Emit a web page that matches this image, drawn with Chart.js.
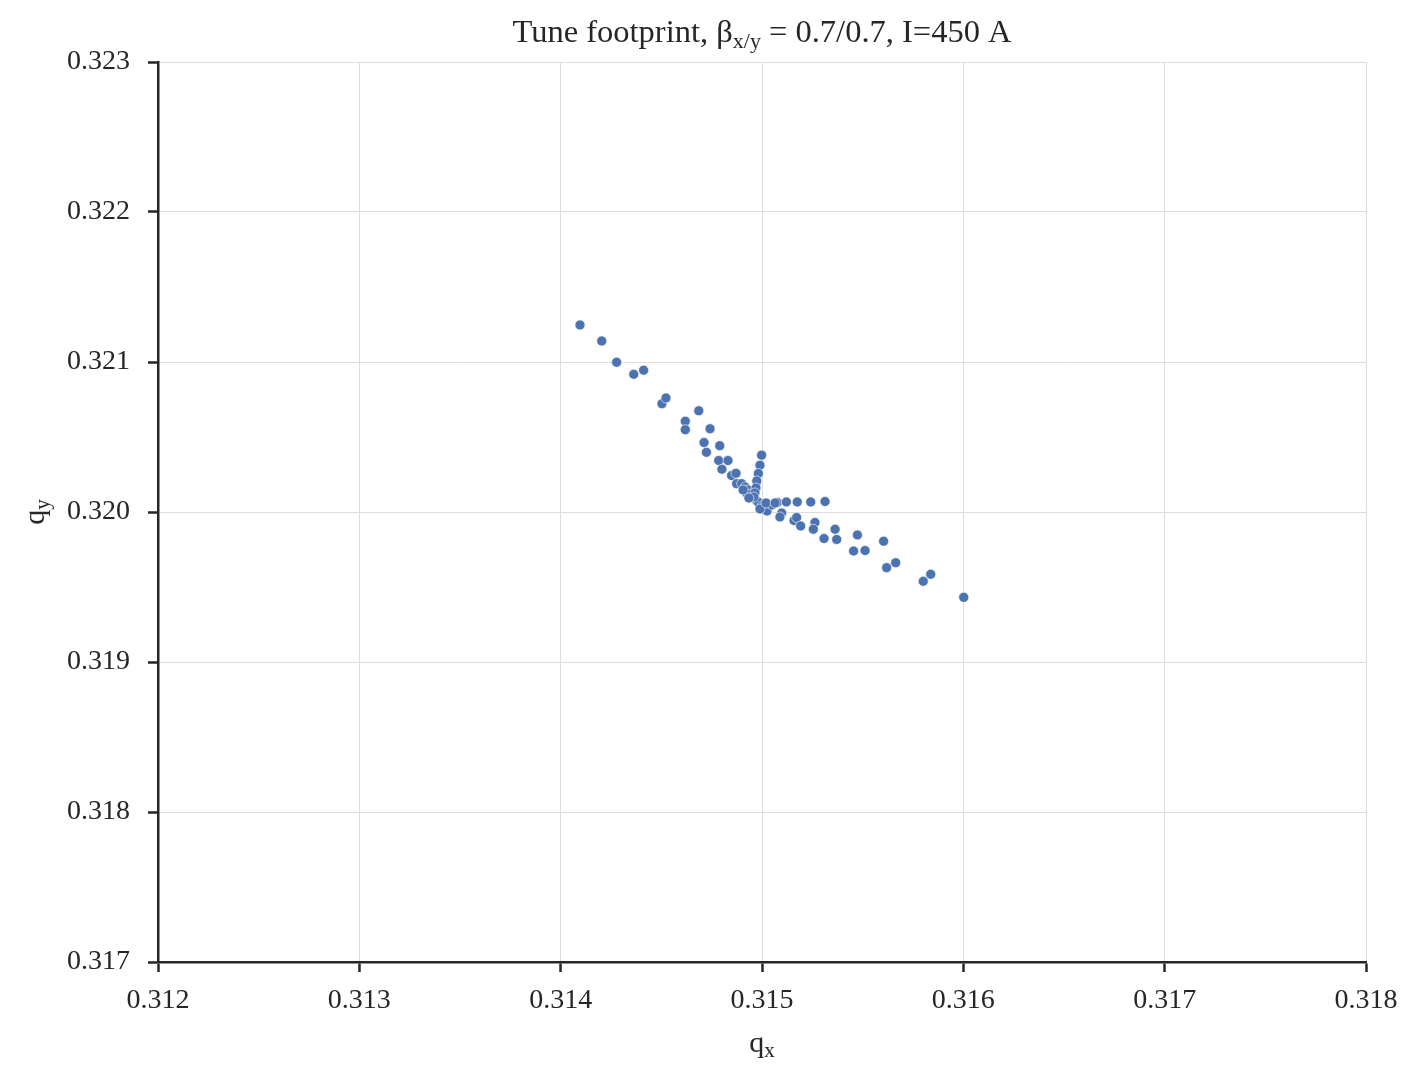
<!DOCTYPE html>
<html>
<head>
<meta charset="utf-8">
<script src="https://cdn.jsdelivr.net/npm/chart.js@4"></script>
<style>
html,body{margin:0;padding:0;background:#fff;}
#wrap{width:1404px;height:1066px;}
</style>
</head>
<body>
<div id="wrap"><canvas id="c" width="1404" height="1066"></canvas></div>
<script>
const qx = [
  0.314096,0.314204,0.314278,0.314363,0.314412,0.314503,0.314523,0.314686,0.314619,0.314619,
  0.314742,0.314712,0.314790,0.314724,0.314785,0.314831,0.314801,0.314998,0.314990,0.314982,
  0.314849,0.314871,0.314974,0.314874,0.314899,0.314924,0.314940,0.315076,0.315121,0.315175,
  0.315242,0.315313,0.315023,0.315040,0.314990,0.315023,0.315098,0.315089,0.315159,0.315172,
  0.315192,0.315263,0.315255,0.315363,0.315308,0.315371,0.315474,0.315455,0.315512,0.315604,
  0.315619,0.315664,0.315801,0.315838,0.316002,
  0.314916,0.314930,0.314945,0.314955,0.314970,0.314980,0.315000,0.315010,0.315025,0.315050,
  0.314970,0.314965,0.314960,0.314906,0.314935,0.314990,0.315020,0.315065
];
const qy = [
  0.321247,0.321140,0.320998,0.320918,0.320945,0.320722,0.320760,0.320675,0.320605,0.320549,
  0.320555,0.320463,0.320442,0.320398,0.320343,0.320343,0.320285,0.320379,0.320312,0.320257,
  0.320243,0.320258,0.320207,0.320189,0.320189,0.320125,0.320135,0.320063,0.320067,0.320067,
  0.320067,0.320070,0.320058,0.320047,0.320035,0.320013,0.319993,0.319967,0.319943,0.319963,
  0.319907,0.319930,0.319885,0.319885,0.319823,0.319817,0.319847,0.319740,0.319743,0.319805,
  0.319629,0.319662,0.319538,0.319585,0.319431,
  0.320167,0.320147,0.320120,0.320100,0.320080,0.320067,0.320040,0.320027,0.320007,0.320047,
  0.320160,0.320127,0.320100,0.320147,0.320093,0.320020,0.320060,0.320060
];
const xTicks = [0.312,0.313,0.314,0.315,0.316,0.317,0.318];
const yTicks = [0.317,0.318,0.319,0.320,0.321,0.322,0.323];
const titleParts = [["Tune footprint, β",false],["x/y",true],[" = 0.7/0.7, I=450 A",false]];
const xLabelParts = [["q",false],["x",true]];
const yLabelParts = [["q",false],["y",true]];

const points = qx.map((x,i)=>({x:x,y:qy[i]}));
const SERIF = '"Liberation Serif","DejaVu Serif",serif';
const INK = '#262626';

function drawParts(ctx, parts, cx, cy, size, subSize, subDy){
  let w = 0;
  parts.forEach(p=>{ ctx.font = (p[1]?subSize:size)+'px '+SERIF; w += ctx.measureText(p[0]).width; });
  let x = cx - w/2;
  parts.forEach(p=>{
    ctx.font = (p[1]?subSize:size)+'px '+SERIF;
    ctx.fillText(p[0], x, cy + (p[1]?subDy:0));
    x += ctx.measureText(p[0]).width;
  });
}

const labelsPlugin = {
  id:'labels',
  afterDraw(chart){
    const ctx = chart.ctx, a = chart.chartArea;
    ctx.save();
    ctx.fillStyle = INK;
    ctx.textBaseline = 'alphabetic';
    ctx.textAlign = 'left';
    drawParts(ctx, titleParts, (a.left+a.right)/2, 42, 32.5, 22, 6);
    drawParts(ctx, xLabelParts, (a.left+a.right)/2, 1052, 30, 21, 5);
    ctx.translate(44, (a.top+a.bottom)/2);
    ctx.rotate(-Math.PI/2);
    drawParts(ctx, yLabelParts, 0, 0, 30, 21, 5);
    ctx.restore();
  }
};

new Chart(document.getElementById('c'), {
  type:'scatter',
  data:{datasets:[{
    data:points,
    backgroundColor:'#4c72b0',
    borderColor:'#ffffff',
    borderWidth:0.6,
    pointRadius:5,
    pointHoverRadius:5
  }]},
  options:{
    responsive:false,
    animation:false,
    events:[],
    layout:{padding:{left:0,top:62,right:38,bottom:0}},
    plugins:{legend:{display:false},tooltip:{enabled:false},title:{display:false}},
    scales:{
      x:{
        type:'linear', min:0.312, max:0.318,
        afterBuildTicks(s){ s.ticks = xTicks.map(v=>({value:v})); },
        afterFit(s){ s.height = 104; s.paddingLeft = 0; s.paddingRight = 0; },
        grid:{color:'#dcdcdc', lineWidth:1, tickColor:INK, tickWidth:2.5, tickLength:10, drawTicks:true},
        border:{color:INK, width:2.5},
        ticks:{color:INK, font:{family:SERIF,size:28}, padding:12, maxRotation:0,
          callback:(v)=>Number(v).toFixed(3)}
      },
      y:{
        type:'linear', min:0.317, max:0.323,
        afterBuildTicks(s){ s.ticks = yTicks.map(v=>({value:v})); },
        afterFit(s){ s.width = 158; s.paddingTop = 0; s.paddingBottom = 0; },
        grid:{color:'#dcdcdc', lineWidth:1, tickColor:INK, tickWidth:2.5, tickLength:10, drawTicks:true},
        border:{color:INK, width:2.5},
        ticks:{color:INK, font:{family:SERIF,size:28}, padding:18,
          callback:(v)=>Number(v).toFixed(3)}
      }
    }
  },
  plugins:[labelsPlugin]
});
</script>
</body>
</html>
